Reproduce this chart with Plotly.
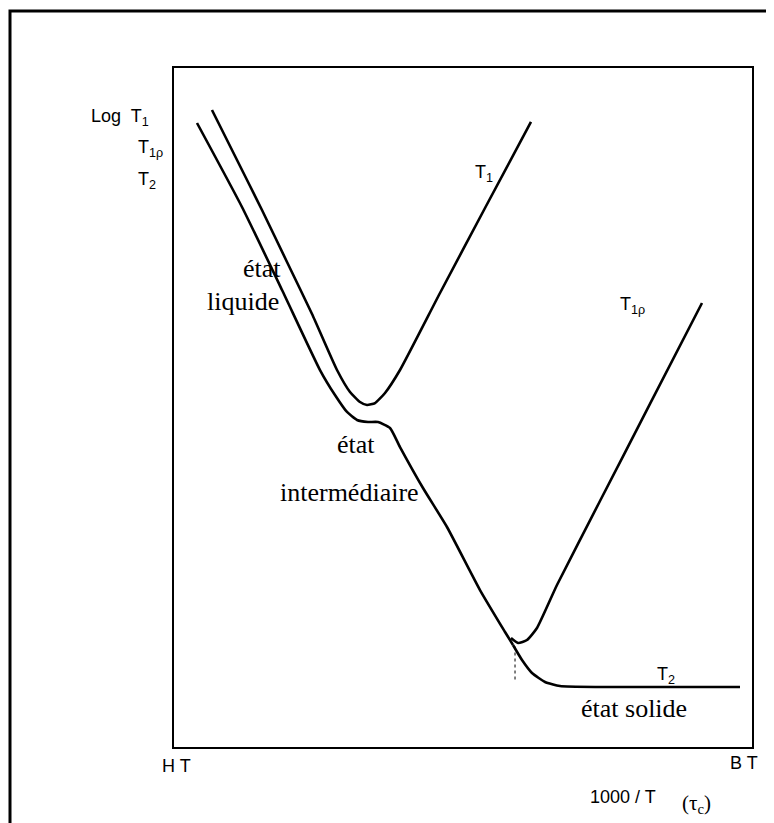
import plotly.graph_objects as go

# Schematic axes: x = 1000/T (0 = HT .. 10 = BT), y = log T (0..10)
t1_x = [0.657, 1.09, 1.522, 1.955, 2.388, 2.82, 3.045, 3.218, 3.339, 3.478, 3.651, 3.91, 4.602, 5.381, 6.176]
t1_y = [9.381, 8.645, 7.909, 7.143, 6.377, 5.552, 5.228, 5.081, 5.037, 5.066, 5.214, 5.552, 6.686, 7.938, 9.205]

low_x = [0.398, 1.176, 1.869, 2.526, 2.785, 2.993, 3.166, 3.356, 3.529, 3.737, 3.91, 4.308, 4.723, 5.294, 5.727, 5.865]
low_y = [9.19, 7.953, 6.731, 5.552, 5.184, 4.934, 4.816, 4.786, 4.786, 4.698, 4.418, 3.814, 3.24, 2.312, 1.694, 1.502]

t1rho_x = [5.83, 5.952, 6.107, 6.28, 6.626, 7.37, 8.235, 9.135]
t1rho_y = [1.605, 1.532, 1.576, 1.753, 2.386, 3.623, 5.052, 6.539]

t2_x = [5.865, 6.021, 6.194, 6.419, 6.678, 7.37, 9.792]
t2_y = [1.502, 1.281, 1.09, 0.957, 0.898, 0.884, 0.884]

dash_x = [5.9, 5.9]
dash_y = [1.48, 0.99]

# page offset of the figure (body margin)
OFF = 8
W, H = 766, 815
L, T = 174 - OFF, 68 - OFF
R = W - (752 - OFF)
B = H - (747 - OFF)
pw, ph = W - L - R, H - T - B

def px(x):  # page pixel -> paper x
    return (x - OFF - L) / pw

def py(y):  # page pixel -> paper y
    return (H - B - (y - OFF)) / ph

fig = go.Figure()
line = dict(color="black", width=2.6)
for xs, ys in [(t1_x, t1_y), (low_x, low_y), (t1rho_x, t1rho_y), (t2_x, t2_y)]:
    fig.add_trace(go.Scatter(x=xs, y=ys, mode="lines", line=dict(shape="spline", smoothing=0.5, **line)))
fig.add_trace(go.Scatter(x=dash_x, y=dash_y, mode="lines", line=dict(color="black", width=1, dash="3px,3px")))

sans = "Liberation Sans, Arial, sans-serif"
serif = "Liberation Serif, Times New Roman, serif"

def ann_d(text, x, y, size, fam):
    fig.add_annotation(x=x, y=y, xref="x", yref="y", text=text, showarrow=False,
                       font=dict(family=fam, size=size, color="black"), xanchor="center", yanchor="middle")

def ann_p(text, x, y, size, fam):
    fig.add_annotation(x=px(x), y=py(y), xref="paper", yref="paper", text=text, showarrow=False,
                       font=dict(family=fam, size=size, color="black"), xanchor="center", yanchor="middle")

ann_p("Log  T<sub>1</sub>", 120, 118, 18, sans)
ann_p("T<sub>1ρ</sub>", 150, 148, 18, sans)
ann_p("T<sub>2</sub>", 147, 180, 18, sans)
ann_p("H T", 176, 766, 18, sans)
ann_p("B T", 744, 763, 18, sans)
ann_p("1000 / T", 623, 797, 18, sans)
ann_p("(τ<sub>c</sub>)", 696, 804, 21, serif)

ann_d("T<sub>1</sub>", 5.363, 8.439, 18, sans)
ann_d("T<sub>1ρ</sub>", 7.941, 6.495, 18, sans)
ann_d("T<sub>2</sub>", 8.512, 1.06, 18, sans)

ann_d("état", 1.522, 7.054, 26, serif)
ann_d("liquide", 1.194, 6.554, 26, serif)
ann_d("état", 3.149, 4.448, 26, serif)
ann_d("intermédiaire", 3.028, 3.755, 26, serif)
ann_d("état solide", 7.958, 0.574, 26, serif)

fig.add_shape(type="rect", xref="paper", yref="paper", x0=px(10), x1=px(771), y0=py(830), y1=py(11),
              line=dict(color="black", width=3))

fig.update_xaxes(range=[0, 10], showgrid=False, zeroline=False, showticklabels=False, ticks="",
                 showline=True, mirror=True, linecolor="black", linewidth=2)
fig.update_yaxes(range=[0, 10], showgrid=False, zeroline=False, showticklabels=False, ticks="",
                 showline=True, mirror=True, linecolor="black", linewidth=2)
fig.update_layout(width=W, height=H, margin=dict(l=L, r=R, t=T, b=B), showlegend=False,
                  plot_bgcolor="white", paper_bgcolor="white")

fig.write_html("out.html")
